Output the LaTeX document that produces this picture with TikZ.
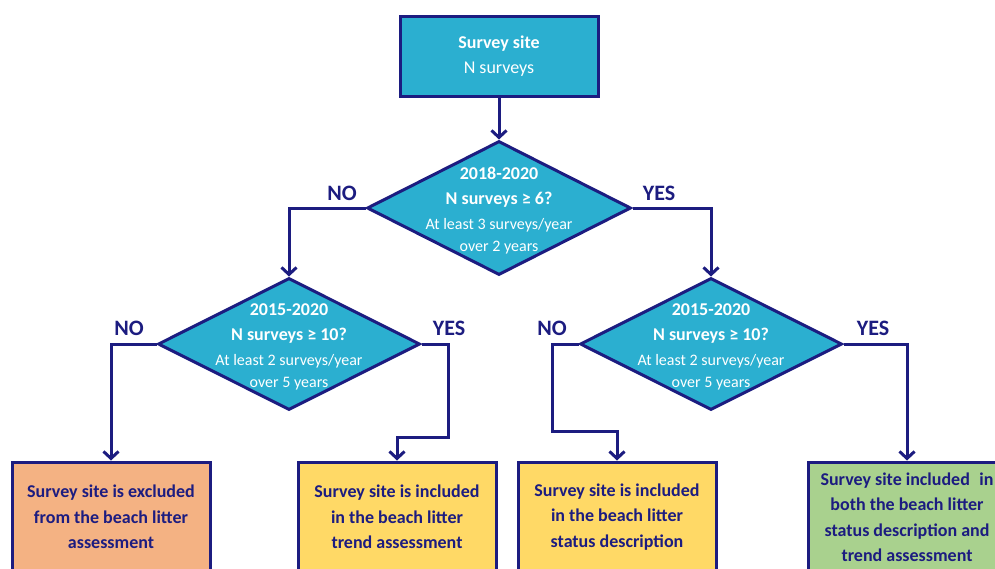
\documentclass[tikz,border=0pt]{standalone}
\usepackage{fontspec}
\setmainfont{Carlito}
\usetikzlibrary{shapes.geometric,arrows.meta}

\definecolor{navy}{RGB}{28,28,128}
\definecolor{cyanfill}{RGB}{43,175,208}
\definecolor{orangefill}{RGB}{244,178,131}
\definecolor{yellowfill}{RGB}{255,217,102}
\definecolor{greenfill}{RGB}{169,209,142}

\begin{document}
\begin{tikzpicture}[x=1pt, y=-1pt, line join=miter,
    startbox/.style={draw=navy, line width=3pt, fill=cyanfill, minimum width=198pt, minimum height=80pt, inner sep=0pt},
    question/.style={shape=diamond, draw=navy, line width=3pt, fill=cyanfill, inner sep=0pt},
    qtext/.style={align=center, text=white, font=\fontsize{18}{22}\selectfont},
    resultbox/.style={draw=navy, line width=3pt, minimum width=198pt, minimum height=110pt, inner sep=0pt,
        align=center, text=navy, font=\bfseries\fontsize{18}{25.5}\selectfont},
    answer/.style={text=navy, font=\bfseries\fontsize{22}{26}\selectfont},
    flow/.style={draw=navy, line width=3pt, -{Straight Barb[length=7pt,width=15pt,line width=3pt]}}]
                \clip (0, 0) rectangle (995, 568);
                \fill[white] (0, 0) rectangle (995, 568);
                % start
                \node[startbox] (site) at (499, 56) {};
                \node[qtext, align=center] (sitetext) at (site) {\bfseries Survey site\\[3pt] N surveys};
                % questions
                \node[question, minimum width=264pt, minimum height=134pt] (q1) at (499, 208) {};
                \node[qtext] (q1text) at (499, 211) {\bfseries 2018-2020\\[3pt] \bfseries N surveys ≥ 6?\\[3pt] \fontsize{16}{22}\selectfont At least 3 surveys/year\\ \fontsize{16}{22}\selectfont over 2 years};
                \node[question, minimum width=262pt, minimum height=132pt] (q2) at (289, 344) {};
                \node[qtext] (q2text) at (289, 347) {\bfseries 2015-2020\\[3pt] \bfseries N surveys ≥ 10?\\[3pt] \fontsize{16}{22}\selectfont At least 2 surveys/year\\ \fontsize{16}{22}\selectfont over 5 years};
                \node[question, minimum width=262pt, minimum height=132pt] (q3) at (711, 344) {};
                \node[qtext] (q3text) at (711, 347) {\bfseries 2015-2020\\[3pt] \bfseries N surveys ≥ 10?\\[3pt] \fontsize{16}{22}\selectfont At least 2 surveys/year\\ \fontsize{16}{22}\selectfont over 5 years};
                % results
                \node[resultbox, fill=orangefill] (excluded) at (111, 517) {Survey site is excluded\\from the beach litter\\assessment};
                \node[resultbox, fill=yellowfill] (trend) at (397, 517) {Survey site is included\\in the beach litter\\trend assessment};
                \node[resultbox, fill=yellowfill] (status) at (617, 517) {Survey site is included\\in the beach litter\\status description};
                \node[resultbox, fill=greenfill] (both) at (907, 517) {Survey site included\hspace{0.3em} in\\both the beach litter\\status description and\\trend assessment};
                % bends
                \coordinate (bend2) at (448, 437);
                \coordinate (bend3) at (552, 431);
                % connectors
                \draw[flow] (site) -- (q1);
                \draw[flow] (q1.west) -| (q2.north);
                \draw[flow] (q1.east) -| (q3.north);
                \draw[flow] (q2.west) -| (excluded.north);
                \draw[flow] (q2.east) -| (bend2) -| (trend.north);
                \draw[flow] (q3.west) -| (bend3) -| (status.north);
                \draw[flow] (q3.east) -| (both.north);
                % answers
                \node[answer] (no1) at (342, 193) {NO};
                \node[answer] (yes1) at (659, 193) {YES};
                \node[answer] (no2) at (129, 328) {NO};
                \node[answer] (yes2) at (449, 328) {YES};
                \node[answer] (no3) at (552, 328) {NO};
                \node[answer] (yes3) at (873, 328) {YES};
            \end{tikzpicture}
\end{document}
